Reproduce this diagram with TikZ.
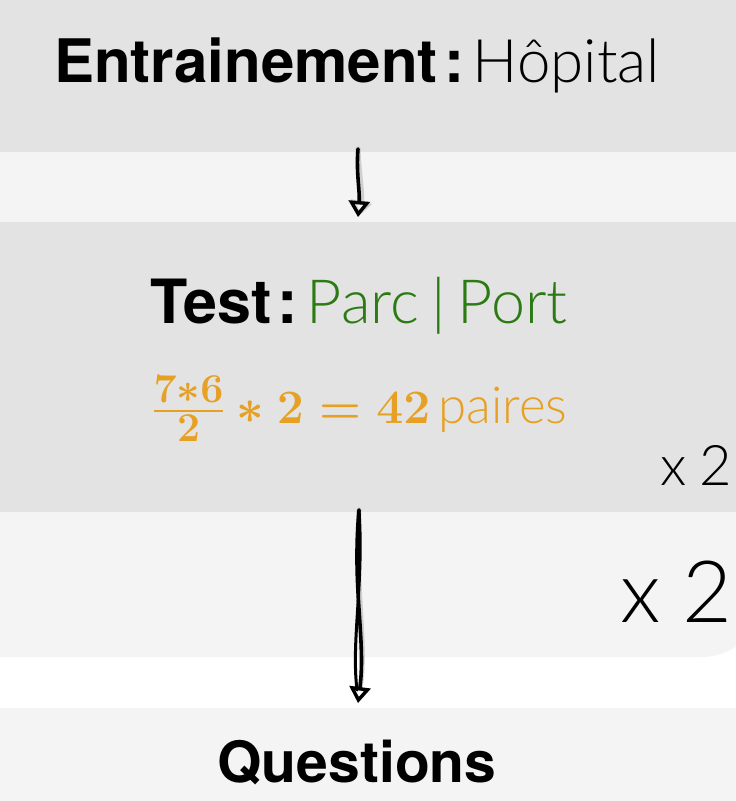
\RequirePackage{fix-cm}
\documentclass[tikz,border=0pt]{standalone}
\usepackage{amsmath}
\usepackage[no-math]{fontspec}
\setmainfont{TeX Gyre Heros}
\IfFontExistsTF{Lato Light}{\newfontfamily\lightfont{Lato Light}}{%
  \IfFontExistsTF{Fira Sans Light}{\newfontfamily\lightfont{Fira Sans Light}}{%
    \newfontfamily\lightfont{TeX Gyre Heros}}}
\usetikzlibrary{arrows.meta}
\definecolor{bandA}{RGB}{227,227,227}
\definecolor{bandB}{RGB}{244,244,244}
\definecolor{txtgreen}{RGB}{44,122,20}
\definecolor{txtorange}{RGB}{230,160,35}
\newcommand\fracpart[1]{\hbox{\fontsize{41}{41}\selectfont\boldmath$#1$}}
\newcommand\calcmath{\mbox{\boldmath$\genfrac{}{}{2.6pt}{1}{\fracpart{7{*}6}}{\fracpart{2}}*2=42$}}
\begin{document}
\begin{tikzpicture}[x=1pt,y=-1pt,
  boldtxt/.style={font=\fontsize{59}{62}\selectfont\bfseries, inner sep=0pt},
  lighttxt/.style={font=\fontsize{56}{60}\selectfont\lightfont, inner sep=0pt},
  handline/.style={line width=3.6pt, line cap=round, line join=round, black},
  handshadow/.style={line width=5pt, line cap=round, line join=round, black, opacity=0.15},
  handhead/.style={-{Triangle[open,length=16pt,width=21pt,line width=3.4pt]}}
]
\useasboundingbox (0,0) rectangle (736,801);
\fill[white] (0,0) rectangle (736,801);
% outer light container with rounded bottom right
\fill[bandB, rounded corners=60pt] (-100,-100) rectangle (762,657);
% top band
\fill[bandA] (0,0) rectangle (736,152);
% inner test band
\fill[bandA] (0,222) rectangle (736,512);
% bottom band
\fill[bandB] (0,708) rectangle (736,801);

% texts
\node[boldtxt, anchor=base, font=\fontsize{60}{62}\selectfont\bfseries] (train) at (357,82)
  {Entrainement\hspace{7pt}:\hspace{8pt}{\mdseries\lightfont Hôpital}};
\node[boldtxt, anchor=base, font=\fontsize{61}{63}\selectfont\bfseries] (test) at (359,323)
  {Test\hspace{6pt}:\hspace{9pt}{\mdseries\lightfont\fontsize{61}{63}\selectfont\color{txtgreen}Parc\hspace{12pt}|\hspace{12pt}Port}};
\node[inner sep=0pt, anchor=base, text=txtorange, font=\fontsize{48}{50}\selectfont] (calcline) at (360,423)
  {\calcmath\hspace{8pt}{\lightfont\fontsize{51}{54}\selectfont paires}};
\node[boldtxt, anchor=base, font=\fontsize{57}{60}\selectfont\bfseries] (quest) at (357,782) {Questions};
\node[lighttxt, anchor=base east] (x2a) at (732,485) {x\hspace{13pt}2};
\node[lighttxt, anchor=base east, font=\fontsize{86}{90}\selectfont\lightfont] (x2b) at (733,622) {x\hspace{22pt}2};

% arrow 1
\coordinate (a1s) at (358,149);
\coordinate (a1e) at (358,217);
\draw[handshadow, handhead, shift={(3,3)}] (a1s) .. controls (356,172) and (360,192) .. (a1e);
\draw[handline, handhead] (a1s) .. controls (356,172) and (360,192) .. (a1e);

% arrow 2
\coordinate (a2s) at (359,510);
\coordinate (a2e) at (358,703);
\draw[handshadow, handhead, shift={(3,3)}] (a2s) .. controls (352,590) and (364,640) .. (a2e);
\draw[handline, line width=3pt] (a2s) .. controls (364,585) and (351,640) .. (357,690);
\draw[handline, handhead] (a2s) .. controls (352,590) and (366,640) .. (a2e);
\end{tikzpicture}
\end{document}
